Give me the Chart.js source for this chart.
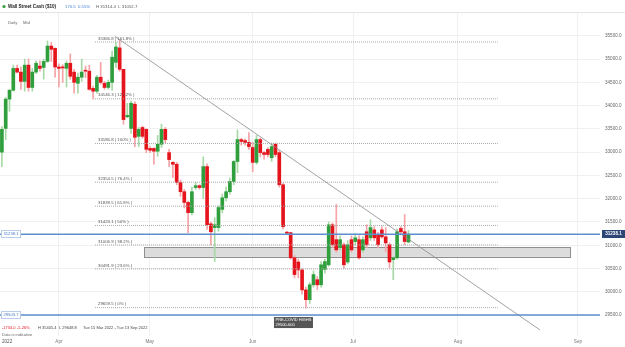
<!DOCTYPE html>
<html>
<head>
<meta charset="utf-8">
<script src="https://cdn.jsdelivr.net/npm/chart.js@4.4.1/dist/chart.umd.min.js"></script>
<style>
  html, body { margin: 0; padding: 0; background: #fff; }
  canvas { display: block; }
</style>
</head>
<body>
<canvas id="priceChart" width="625" height="347"></canvas>
<script>
// daily candles, 15 Mar 2022 -> 19 Jul 2022 (incl. sunday sessions)
const opens = [33000, 33510, 34140, 34330, 34800, 34720, 34520, 34870, 34390, 34720,
  34850, 34820, 34950, 35280, 35230, 34830, 34820, 34800, 34910, 34720,
  34480, 34610, 34760, 34740, 34370, 34310, 34610, 34480, 34390, 34500,
  34930, 35240, 34780, 33760, 33510, 34030, 33340, 33530, 33490, 33080,
  33080, 33020, 33170, 33490, 32990, 32780, 32740, 32350, 32150, 31920,
  31700, 32240, 32280, 32240, 32690, 31460, 31380, 31380, 31770, 32020,
  32150, 32370, 32800, 33270, 33250, 33210, 33100, 32780, 33270, 32990,
  33060, 32880, 33170, 32990, 32300, 31280, 31270, 30730, 30640, 30470,
  30040, 29830, 30150, 30260, 30150, 30480, 30580, 31440, 31120, 30950,
  31010, 30640, 31120, 31080, 31120, 30900, 31290, 31160, 31330, 31230,
  31330, 31180, 31010, 30690, 30730, 31360, 31290, 31068];
const highs = [33550, 34180, 34350, 34870, 34870, 34830, 35000, 35000, 34800, 34960,
  34960, 35000, 35390, 35360, 35240, 34900, 34880, 34960, 35110, 34780,
  34700, 35000, 34850, 34870, 34420, 34650, 34930, 34520, 34550, 35170,
  35360, 35405, 34780, 34050, 34100, 34080, 33530, 33560, 33500, 33120,
  33100, 33360, 33600, 33530, 33060, 32800, 32780, 32400, 32200, 31950,
  32250, 32350, 32300, 32900, 32750, 31500, 31590, 31850, 32100, 32250,
  32450, 32820, 33480, 33300, 33280, 33420, 33210, 33360, 33300, 33020,
  33100, 33200, 33200, 33040, 32330, 31300, 31280, 30780, 30700, 30500,
  30100, 30200, 30450, 30330, 30650, 30700, 31500, 31480, 31880, 31200,
  31050, 31100, 31200, 31250, 31200, 31180, 31440, 31550, 31400, 31280,
  31400, 31380, 31050, 30750, 31350, 31400, 31660, 31314];
const lows = [32690, 33270, 33880, 34310, 34700, 34350, 34310, 34310, 34310, 34690,
  34740, 34570, 34930, 34950, 34610, 34400, 34500, 34400, 34570, 34270,
  34270, 34520, 34600, 34330, 34140, 34270, 34460, 34350, 34350, 34330,
  34820, 34740, 33600, 33740, 33400, 33120, 33120, 33300, 32990, 32990,
  32740, 32910, 33100, 33200, 32690, 32450, 32300, 32050, 31800, 31270,
  31650, 32200, 32200, 32000, 31340, 31010, 30650, 31300, 31700, 31950,
  32100, 32300, 32560, 33150, 33150, 33060, 32580, 32740, 32900, 32850,
  32900, 32800, 32900, 32250, 31350, 31240, 30700, 30300, 30300, 29950,
  29650, 29750, 30100, 30050, 30100, 30400, 30550, 30950, 30850, 30900,
  30500, 30600, 30850, 31000, 30700, 30850, 30950, 31100, 31100, 30950,
  31150, 30860, 30520, 30260, 30700, 31250, 31010, 31053];
const closes = [33490, 34140, 34330, 34800, 34720, 34520, 34870, 34390, 34720, 34910,
  34800, 34950, 35280, 35210, 34830, 34800, 34810, 34910, 34630, 34500,
  34610, 34720, 34740, 34350, 34310, 34610, 34500, 34390, 34500, 35040,
  35260, 34780, 33700, 33790, 34050, 33320, 33490, 33340, 33060, 33040,
  33020, 33170, 33490, 33270, 32840, 32740, 32350, 32150, 31920, 31700,
  32150, 32280, 32240, 32690, 31440, 31290, 31440, 31810, 32020, 32150,
  32370, 32800, 33270, 33230, 33210, 33120, 32780, 33270, 32990, 32950,
  32950, 33120, 32950, 32300, 31400, 31260, 30730, 30370, 30470, 30040,
  29830, 30150, 30370, 30150, 30580, 30650, 31440, 31010, 30900, 31120,
  30580, 31010, 30900, 31160, 30730, 31120, 31010, 31380, 31160, 31010,
  31180, 31050, 30640, 30730, 31290, 31290, 31080, 31238.1];
const days = opens.map((_, i) => i);

// axis ticks
const monthTicks = [15, 38.9, 66, 92.4, 120, 151.6];
const monthLabels = ['Apr', 'May', 'Jun', 'Jul', 'Aug', 'Sep'];
const priceTicks = [29500, 30000, 30500, 31000, 31500, 32000, 32500, 33000, 33500, 34000, 34500, 35000, 35500];

// fibonacci retracement
const fibLevels = [35366.8, 34146.3, 33186.8, 32354.5, 31839.5, 31423.1, 31006.9, 30491.9, 29659.5];
const fibLabels = ['161.8%', '127.2%', '100%', '76.4%', '61.8%', '50%', '38.2%', '23.6%', '0%'];
const fibFrom = 24.5;
const fibTo = 130.5;

// trend line, price lines, zone
const trendX = [29.7, 141.6];
const trendY = [35490, 29180];
const lastPrice = 31238.1;
const supportPrice = 29503.7;
const zoneX = [37.4, 149.5];
const zoneY = [30750, 30960];

const X_MIN = -0.5;
const X_MAX = 157.4;
const GREEN = '#2f9e3c';
const RED = '#e5131b';
const FONT = '"Liberation Sans", Arial, sans-serif';

const isUp = days.map(i => closes[i] >= opens[i]);

const datasets = [];

// wicks
datasets.push({
    type: 'bar',
    data: days.map(i => ({ x: i, y: [lows[i], highs[i]] })),
    backgroundColor: isUp.map(u => u ? '#a6d9a6' : '#f5a3a6'),
    barThickness: 1,
    grouped: false,
    order: 3
});

// bodies
datasets.push({
    type: 'bar',
    data: days.map(i => ({ x: i, y: [opens[i], closes[i]] })),
    backgroundColor: isUp.map(u => u ? GREEN : RED),
    barThickness: 3,
    minBarLength: 1,
    grouped: false,
    order: 2
});

// fib lines
fibLevels.forEach(lv => {
    datasets.push({
        type: 'line',
        data: [{ x: fibFrom, y: lv }, { x: fibTo, y: lv }],
        borderColor: '#a8a8a8',
        borderWidth: 1,
        borderDash: [1, 1],
        pointRadius: 0,
        order: 1
    });
});

// trend line
datasets.push({
    type: 'line',
    data: [{ x: trendX[0], y: trendY[0] }, { x: trendX[1], y: trendY[1] }],
    borderColor: '#8a8a8a',
    borderWidth: 0.8,
    pointRadius: 0,
    order: 1
});

// price lines
[lastPrice, supportPrice].forEach(p => {
    datasets.push({
        type: 'line',
        data: [{ x: X_MIN, y: p }, { x: X_MAX, y: p }],
        borderColor: '#5d8fcf',
        borderWidth: 1.5,
        pointRadius: 0,
        order: 0
    });
});

function txt(ctx, s, x, y, color, size, bold, align) {
    ctx.font = (bold ? 'bold ' : '') + size + 'px ' + FONT;
    ctx.fillStyle = color;
    ctx.textAlign = align || 'left';
    ctx.textBaseline = 'middle';
    ctx.fillText(s, x, y);
}

const overlay = {
    id: 'overlay',
    beforeDatasetsDraw(chart) {
        const { ctx, scales: { x, y } } = chart;
        ctx.save();
        const x1 = x.getPixelForValue(zoneX[0]);
        const x2 = x.getPixelForValue(zoneX[1]);
        const y1 = y.getPixelForValue(zoneY[1]);
        const y2 = y.getPixelForValue(zoneY[0]);
        ctx.fillStyle = '#dcdcdc';
        ctx.fillRect(x1, y1, x2 - x1, y2 - y1);
        ctx.strokeStyle = '#8f8f8f';
        ctx.lineWidth = 1;
        ctx.strokeRect(Math.round(x1) + 0.5, Math.round(y1) + 0.5, Math.round(x2 - x1), Math.round(y2 - y1));
        ctx.restore();
    },
    afterDatasetsDraw(chart) {
        const { ctx, scales: { x, y } } = chart;
        ctx.save();

        // fib labels
        fibLevels.forEach((lv, k) => {
            const py = y.getPixelForValue(lv);
            txt(ctx, lv.toFixed(1) + ' ( ' + fibLabels[k] + ' )', x.getPixelForValue(fibFrom) + 3, py - 3.5, '#555', 4.3);
        });

        // left price tags
        [lastPrice, supportPrice].forEach(p => {
            const py = Math.round(y.getPixelForValue(p));
            ctx.fillStyle = '#fff';
            ctx.fillRect(1, py - 4, 20, 8);
            ctx.strokeStyle = '#b9cde8';
            ctx.lineWidth = 1;
            ctx.strokeRect(1.5, py - 3.5, 19, 7);
            txt(ctx, p.toFixed(1), 11, py, '#4d7fc4', 4.2, false, 'center');
        });

        // right price tag
        const ly = Math.round(y.getPixelForValue(lastPrice));
        ctx.fillStyle = '#2c4675';
        ctx.fillRect(602, ly - 4, 23, 8);
        txt(ctx, lastPrice.toFixed(1), 613.5, ly, '#fff', 4.6, true, 'center');

        // pre-covid note
        const bx = x.getPixelForValue(71.6);
        const by = y.getPixelForValue(29457);
        ctx.fillStyle = '#555';
        ctx.fillRect(bx, by, 39, 11);
        txt(ctx, 'PRE-COVID HIGHS', bx + 1.5, by + 3, '#fff', 4);
        txt(ctx, '29500-600', bx + 1.5, by + 8, '#fff', 4);

        // header
        ctx.fillStyle = '#fff';
        ctx.fillRect(0, 0, 625, 12);
        ctx.strokeStyle = '#e4e4e4';
        ctx.beginPath();
        ctx.moveTo(0, 12.5);
        ctx.lineTo(625, 12.5);
        ctx.stroke();
        ctx.fillStyle = '#2f9e3c';
        ctx.beginPath();
        ctx.arc(4, 6.5, 1.6, 0, Math.PI * 2);
        ctx.fill();
        txt(ctx, 'Wall Street Cash ($10)', 8, 6.5, '#222', 4.6, true);
        txt(ctx, '170.5', 65, 6.5, '#3f7fd0', 4.3);
        txt(ctx, '0.55%', 78, 6.5, '#3f7fd0', 4.3);
        txt(ctx, 'H 31314.4  L 31052.7', 96, 6.5, '#555', 4.3);
        txt(ctx, 'Daily', 8, 23, '#666', 4.2);
        txt(ctx, 'Mid', 23, 23, '#666', 4.2);

        // footer
        txt(ctx, '-1734.0', 2, 328, '#e5131b', 4);
        txt(ctx, '-5.26%', 17, 328, '#e5131b', 4);
        txt(ctx, 'H 35405.4', 38, 328, '#444', 4);
        txt(ctx, 'L 29648.8', 59, 328, '#444', 4);
        txt(ctx, 'Tue 15 Mar 2022 - Tue 13 Sep 2022', 83, 328, '#444', 4);
        txt(ctx, 'Data is indicative', 2, 335, '#666', 4);
        ctx.restore();
    },
    afterDraw(chart) {
        txt(chart.ctx, '2022', 2, 342, '#555', 4.6);
    }
};

new Chart(document.getElementById('priceChart'), {
    type: 'bar',
    data: { datasets: datasets },
    options: {
        responsive: false,
        animation: false,
        events: [],
        layout: { padding: { top: 13, left: 0, right: 0, bottom: 0 } },
        plugins: { legend: { display: false }, tooltip: { enabled: false } },
        scales: {
            x: {
                type: 'linear',
                min: X_MIN,
                max: X_MAX,
                offset: false,
                grid: { color: '#f0f0f0', offset: false, drawTicks: false },
                border: { display: false },
                afterBuildTicks: s => { s.ticks = monthTicks.map(v => ({ value: v })); },
                afterFit: s => { s.height = 11; },
                ticks: {
                    autoSkip: false,
                    maxRotation: 0,
                    padding: 3,
                    color: '#777',
                    font: { size: 4.6, family: FONT },
                    callback: v => monthLabels[monthTicks.indexOf(v)]
                }
            },
            y: {
                position: 'right',
                min: 29050,
                max: 35990,
                grid: { color: '#f0f0f0', drawTicks: false },
                border: { display: false },
                afterBuildTicks: s => { s.ticks = priceTicks.map(v => ({ value: v })); },
                afterFit: s => { s.width = 25; },
                ticks: {
                    autoSkip: false,
                    padding: 5,
                    color: '#666',
                    font: { size: 4.6, family: FONT },
                    callback: v => v.toFixed(1)
                }
            }
        }
    },
    plugins: [overlay]
});
</script>
</body>
</html>
